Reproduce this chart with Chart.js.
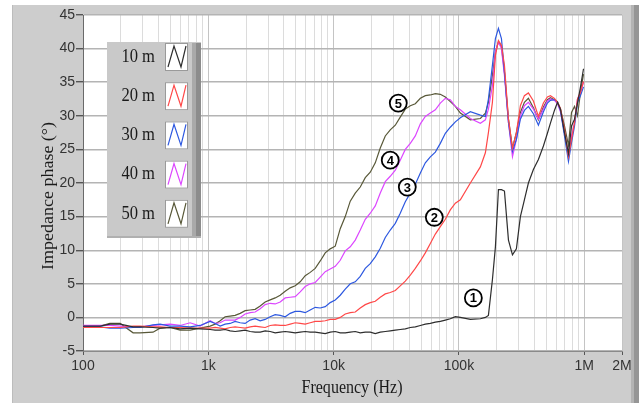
<!DOCTYPE html>
<html>
<head>
<meta charset="utf-8">
<script src="https://cdn.jsdelivr.net/npm/chart.js@4.4.0/dist/chart.umd.min.js"></script>
<style>
  html, body { margin: 0; padding: 0; background: #ffffff; }
  #phaseChart { display: block; }
</style>
</head>
<body>
<canvas id="phaseChart" width="641" height="403"></canvas>
<script>
// measurement frequencies (Hz), shared by all cable lengths
const freqHz = [
    100, 137, 164, 198, 251, 285, 362, 412, 495, 596, 716, 860,
    1034, 1133, 1243, 1362, 1493, 1637, 1795, 1967, 2157, 2364, 2593, 2842, 3116,
    3416, 3745, 4106, 4500, 4935, 5410, 5931, 6500, 7129, 7815, 8568, 9390,
    10299, 11290, 12378, 13570, 14877, 16310, 17881, 19600, 21491, 23560, 25830, 28300,
    31045, 34000, 37313, 40900, 44848, 49200, 53903, 59100, 64787, 71000, 77868, 85300, 93592,
    102600, 123300, 148200, 162500, 171800, 184900, 195400, 206500, 218300, 230700,
    248300, 267300, 287300, 309200, 332800, 358200, 392600, 430500, 472000, 508000,
    537000, 578000, 611000, 645700, 695000, 748000, 791000, 836000, 883000, 933000, 986000
];

// impedance phase (degrees) for each cable length
const phase10m = [
    -1.3, -1.3, -1.0, -1.0, -1.4, -1.4, -1.5, -1.6, -1.5, -1.7, -1.6, -1.7,
    -1.8, -1.9, -1.9, -1.8, -2.0, -2.1, -2.0, -1.9, -2.1, -2.2, -2.2, -2.0, -2.1,
    -2.3, -2.2, -2.1, -2.2, -2.3, -2.2, -2.1, -2.2, -2.2, -2.3, -2.4, -2.2,
    -2.1, -2.3, -2.3, -2.2, -2.1, -2.3, -2.2, -2.2, -2.4, -2.2, -2.1, -2.0,
    -1.9, -1.8, -1.7, -1.5, -1.4, -1.2, -1.0, -0.9, -0.7, -0.6, -0.4, -0.2, 0.1,
    0.0, -0.3, -0.2, 0.0, 0.3, 5.6, 10.5, 19.0, 19.0, 18.8,
    11.5, 9.3, 10.2, 15.0, 17.5, 20.0, 22.0, 23.5, 25.5, 27.4,
    28.9, 30.8, 32.0, 31.0, 27.5, 24.4, 28.5, 29.5, 31.9, 34.3, 37.0
];
const phase20m = [
    -1.5, -1.5, -1.5, -1.5, -1.3, -1.3, -1.4, -1.4, -1.5, -1.5, -1.6, -1.6,
    -1.6, -1.5, -1.6, -1.7, -1.5, -1.4, -1.5, -1.6, -1.4, -1.3, -1.4, -1.5, -1.2,
    -1.1, -1.2, -1.2, -1.0, -0.8, -0.9, -1.0, -0.8, -0.6, -0.6, -0.5, -0.3,
    -0.3, 0.0, 0.5, 0.7, 0.8, 1.4, 1.9, 2.2, 2.4, 3.0, 3.5, 3.7,
    4.0, 4.7, 5.4, 6.3, 7.3, 8.4, 9.6, 11.0, 12.4, 13.5, 14.6, 16.0, 17.0,
    17.5, 20.0, 22.4, 24.5, 27.5, 32.0, 39.0, 41.2, 40.5, 37.5,
    29.5, 25.2, 27.5, 31.5, 33.0, 33.4, 32.2, 29.9, 31.9, 32.8,
    33.0, 32.6, 32.0, 31.1, 28.0, 23.9, 26.5, 29.0, 32.5, 33.5, 35.1
];
const phase30m = [
    -1.4, -1.4, -1.6, -1.6, -1.5, -1.5, -1.1, -1.0, -1.3, -1.3, -1.4, -1.2,
    -0.6, -0.9, -1.3, -1.0, -0.9, -0.6, -0.8, -0.9, -0.4, -0.2, -0.5, -0.3, 0.1,
    0.4, 0.3, 0.1, 0.6, 0.9, 0.9, 0.7, 1.1, 1.5, 1.4, 1.6, 2.2,
    2.6, 3.3, 4.2, 5.0, 5.3, 6.1, 7.3, 8.0, 9.0, 10.3, 11.9, 13.0,
    14.0, 15.5, 17.2, 18.5, 19.8, 21.5, 23.0, 23.9, 24.6, 25.9, 27.4, 28.3, 29.1,
    29.7, 30.6, 30.1, 29.9, 32.5, 37.5, 41.5, 43.0, 41.5, 36.5,
    29.0, 24.7, 26.5, 29.5, 30.8, 31.4, 30.3, 28.6, 30.6, 31.9,
    32.3, 32.4, 32.0, 30.8, 27.0, 23.2, 26.0, 28.5, 32.0, 33.0, 34.3
];
const phase40m = [
    -1.2, -1.2, -1.2, -1.3, -1.4, -1.4, -1.2, -1.1, -1.0, -1.2, -0.8, -1.3,
    -0.5, -0.9, -0.8, -0.4, -0.4, -0.4, 0.0, 0.5, 0.7, 0.8, 1.3, 1.9, 2.1,
    2.0, 2.3, 2.9, 3.0, 3.1, 3.8, 4.6, 5.0, 5.2, 6.0, 6.8, 7.2,
    7.6, 8.5, 9.9, 10.5, 11.5, 13.0, 14.6, 15.5, 16.6, 18.5, 20.2, 21.0,
    21.9, 23.4, 25.0, 25.9, 27.0, 28.8, 29.9, 30.4, 30.9, 31.9, 32.6, 32.4, 31.4,
    30.9, 29.6, 28.9, 29.4, 31.0, 34.5, 39.5, 41.0, 40.0, 36.0,
    29.0, 23.9, 26.5, 30.0, 31.5, 32.0, 31.0, 29.5, 31.0, 32.2,
    32.5, 32.3, 31.8, 30.6, 27.5, 24.0, 27.0, 29.0, 32.5, 33.5, 35.0
];
const phase50m = [
    -1.3, -1.3, -0.9, -0.9, -2.3, -2.3, -2.2, -1.6, -1.5, -1.9, -1.9, -1.6,
    -1.3, -1.0, -0.5, 0.1, 0.2, 0.3, 0.6, 1.0, 1.1, 1.2, 1.7, 2.3, 2.6,
    2.9, 3.3, 3.9, 4.4, 4.7, 5.3, 6.2, 6.7, 7.3, 8.4, 9.6, 10.2,
    10.6, 13.2, 15.0, 17.3, 18.5, 19.4, 20.8, 21.6, 23.0, 25.2, 27.0, 27.9,
    28.6, 29.8, 31.0, 31.5, 31.8, 32.6, 33.0, 33.1, 33.3, 33.2, 32.8, 32.1, 31.4,
    30.4, 29.4, 29.6, 30.4, 32.0, 36.0, 39.5, 41.0, 40.3, 36.5,
    29.5, 25.2, 27.5, 30.5, 32.0, 32.6, 31.2, 29.4, 31.3, 32.4,
    32.7, 32.4, 32.1, 31.0, 28.5, 25.6, 30.5, 31.4, 30.0, 33.5, 36.2
];

const seriesLabels = ['10 m', '20 m', '30 m', '40 m', '50 m'];
const seriesColors = ['#2e2e2e', '#ff4848', '#2d58e0', '#dc46ff', '#585838'];

const xTickValues = [100, 1000, 10000, 100000, 1000000, 2000000];
const xTickLabels = ['100', '1k', '10k', '100k', '1M', '2M'];

// circled curve numbers and where they sit (frequency, phase)
const markTexts = ['1', '2', '3', '4', '5'];
const markFreq = [130300, 63600, 38700, 28300, 32800];
const markPhase = [2.9, 14.9, 19.4, 23.4, 31.9];

// grid lines at 1..9 x each decade, plus the 2M end
const gridValues = [];
for (let d = 100; d < 1000000; d *= 10) {
    for (let k = 1; k <= 9; k++) gridValues.push(d * k);
}
gridValues.push(1000000, 2000000);

const allPhases = [phase10m, phase20m, phase30m, phase40m, phase50m];
const datasets = allPhases.map((vals, i) => ({
    label: seriesLabels[i],
    data: freqHz.map((f, j) => ({ x: f, y: vals[j] })),
    borderColor: seriesColors[i],
    borderWidth: 1.2,
    pointRadius: 0,
    tension: 0,
    fill: false
}));

const serif = "'Liberation Serif', 'Times New Roman', serif";
const sans = "'Liberation Sans', Arial, sans-serif";

const panelPlugin = {
    id: 'panelPlugin',
    beforeDraw(chart) {
        const ctx = chart.ctx;
        const area = chart.chartArea;
        ctx.save();
        ctx.fillStyle = '#ffffff';
        ctx.fillRect(0, 0, chart.width, chart.height);
        // grey front panel with a darker right edge
        ctx.fillStyle = '#cdcdcd';
        ctx.fillRect(12, 5, 620, 398);
        ctx.fillStyle = '#b4b4b4';
        ctx.fillRect(631, 5, 3, 398);
        ctx.fillStyle = '#969696';
        ctx.fillRect(634, 5, 5, 398);
        ctx.fillStyle = '#bcbcbc';
        ctx.fillRect(12, 5, 1, 398);
        // plot area
        ctx.fillStyle = '#ffffff';
        ctx.fillRect(area.left, area.top, area.right - area.left, area.bottom - area.top);
        ctx.restore();
    },
    afterDraw(chart) {
        const ctx = chart.ctx;
        const xs = chart.scales.x;
        const ys = chart.scales.y;
        ctx.save();

        // axis titles
        ctx.fillStyle = '#1a1a1a';
        ctx.font = '18px ' + serif;
        ctx.textAlign = 'center';
        ctx.textBaseline = 'middle';
        ctx.save();
        ctx.translate(352, 388);
        ctx.scale(0.89, 1);
        ctx.fillText('Frequency (Hz)', 0, 0);
        ctx.restore();
        ctx.save();
        ctx.translate(49, 196);
        ctx.scale(0.89, 1);
        ctx.rotate(-Math.PI / 2);
        ctx.fillText('Impedance phase (\u00b0)', 0, 0);
        ctx.restore();

        // legend panel
        const lx = 107, ly = 42, lw = 94, lh = 196;
        ctx.fillStyle = '#c9c9c9';
        ctx.fillRect(lx, ly, lw, lh);
        ctx.fillStyle = '#a9a9a9';
        ctx.fillRect(lx + lw - 9, ly + 1, 4, lh - 1);
        ctx.fillStyle = '#8c8c8c';
        ctx.fillRect(lx + lw - 5, ly + 1, 5, lh - 1);
        ctx.fillStyle = '#b0b0b0';
        ctx.fillRect(lx, ly + lh - 2, lw, 2);
        chart.data.datasets.forEach((ds, i) => {
            const cy = 57 + i * 39.2;
            ctx.fillStyle = '#1a1a1a';
            ctx.font = '18px ' + serif;
            ctx.textAlign = 'right';
            ctx.textBaseline = 'middle';
            ctx.save();
            ctx.translate(155, cy);
            ctx.scale(0.92, 1);
            ctx.fillText(ds.label, 0, 0);
            ctx.restore();
            // sample box with zigzag
            ctx.fillStyle = '#ffffff';
            ctx.fillRect(165, cy - 14, 23, 28);
            ctx.strokeStyle = '#9a9a9a';
            ctx.lineWidth = 1;
            ctx.strokeRect(165.5, cy - 13.5, 22, 27);
            ctx.strokeStyle = ds.borderColor;
            ctx.lineWidth = 1.2;
            ctx.beginPath();
            ctx.moveTo(168, cy + 10);
            ctx.lineTo(174, cy - 11);
            ctx.lineTo(181, cy + 10);
            ctx.lineTo(186, cy - 11);
            ctx.stroke();
        });

        // circled curve numbers
        markTexts.forEach((t, i) => {
            const px = xs.getPixelForValue(markFreq[i]);
            const py = ys.getPixelForValue(markPhase[i]);
            ctx.fillStyle = '#ffffff';
            ctx.beginPath();
            ctx.arc(px, py, 8.5, 0, Math.PI * 2);
            ctx.fill();
            ctx.strokeStyle = '#000000';
            ctx.lineWidth = 1.8;
            ctx.stroke();
            ctx.fillStyle = '#000000';
            ctx.font = 'bold 13px ' + sans;
            ctx.textAlign = 'center';
            ctx.textBaseline = 'middle';
            ctx.fillText(t, px, py + 1);
        });
        ctx.restore();
    }
};

const ctx = document.getElementById('phaseChart').getContext('2d');

new Chart(ctx, {
    type: 'line',
    data: { datasets: datasets },
    options: {
        responsive: false,
        animation: false,
        devicePixelRatio: 1,
        layout: { padding: { left: 12, right: 19, top: 15, bottom: 0 } },
        plugins: {
            legend: { display: false },
            tooltip: { enabled: false },
            title: { display: false }
        },
        scales: {
            x: {
                type: 'logarithmic',
                min: 100,
                max: 2000000,
                afterBuildTicks: (scale) => {
                    scale.ticks = gridValues.map(v => ({ value: v }));
                },
                afterFit: (scale) => { scale.height = 52; },
                ticks: {
                    autoSkip: false,
                    maxRotation: 0,
                    padding: 3,
                    color: '#333333',
                    font: { family: sans, size: 14 },
                    callback: (value) => {
                        const k = xTickValues.indexOf(value);
                        return k >= 0 ? xTickLabels[k] : '';
                    }
                },
                grid: {
                    color: (c) => xTickValues.includes(c.tick && c.tick.value) ? '#c4c4c4' : '#dcdcdc',
                    tickColor: (c) => xTickValues.includes(c.tick && c.tick.value) ? '#555555' : 'rgba(0,0,0,0)',
                    tickLength: 4,
                    lineWidth: 1
                },
                border: { color: '#8a8a8a', width: 1 }
            },
            y: {
                min: -5,
                max: 45,
                afterFit: (scale) => { scale.width = 71; },
                ticks: {
                    stepSize: 5,
                    padding: 1,
                    color: '#333333',
                    font: { family: sans, size: 14 }
                },
                grid: {
                    color: '#b4b4b4',
                    tickColor: '#555555',
                    tickLength: 7,
                    lineWidth: 1.4
                },
                border: { color: '#6a6a6a', width: 1 }
            }
        }
    },
    plugins: [panelPlugin]
});
</script>
</body>
</html>
